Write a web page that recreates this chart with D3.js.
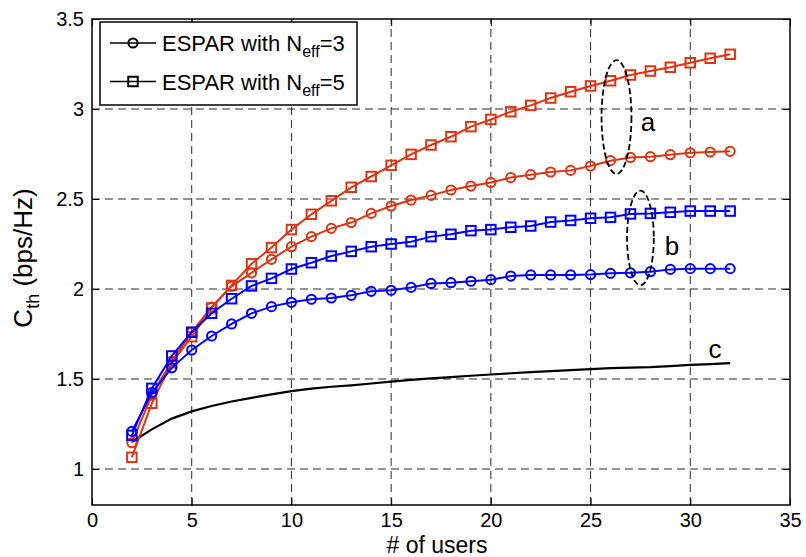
<!DOCTYPE html>
<html>
<head>
<meta charset="utf-8">
<script src="https://cdn.jsdelivr.net/npm/d3@7"></script>
<style>
  html, body { margin: 0; padding: 0; background: #fff; }
  svg { display: block; font-family: "Liberation Sans", Arial, sans-serif; }
</style>
</head>
<body>
<svg id="chart" width="806" height="557"></svg>
<script>
// Number of users on the x axis
const users = [2, 3, 4, 5, 6, 7, 8, 9, 10, 11, 12, 13, 14, 15, 16, 17, 18, 19, 20,
               21, 22, 23, 24, 25, 26, 27, 28, 29, 30, 31, 32];

// Group a (red): ESPAR with N_eff = 3 (circles) and N_eff = 5 (squares)
const aNeff3 = [1.146, 1.41, 1.6, 1.76, 1.9, 2.015, 2.09, 2.165, 2.235, 2.291, 2.337,
                2.369, 2.42, 2.461, 2.494, 2.52, 2.55, 2.572, 2.592, 2.619, 2.635,
                2.65, 2.659, 2.683, 2.713, 2.731, 2.735, 2.746, 2.757, 2.761, 2.765];
const aNeff5 = [1.065, 1.365, 1.59, 1.735, 1.895, 2.02, 2.14, 2.23, 2.33, 2.415, 2.49,
                2.565, 2.625, 2.687, 2.748, 2.8, 2.846, 2.902, 2.942, 2.985, 3.02,
                3.061, 3.096, 3.128, 3.157, 3.189, 3.211, 3.232, 3.257, 3.282, 3.304];

// Group b (blue): ESPAR with N_eff = 3 (circles) and N_eff = 5 (squares)
const bNeff3 = [1.209, 1.424, 1.562, 1.661, 1.739, 1.806, 1.865, 1.902, 1.926, 1.943, 1.95,
                1.965, 1.987, 1.993, 2.009, 2.031, 2.035, 2.043, 2.052, 2.072, 2.078,
                2.078, 2.078, 2.08, 2.087, 2.09, 2.096, 2.109, 2.113, 2.113, 2.113];
const bNeff5 = [1.187, 1.448, 1.628, 1.76, 1.865, 1.946, 2.017, 2.059, 2.111, 2.146, 2.183,
                2.209, 2.235, 2.25, 2.263, 2.291, 2.304, 2.324, 2.33, 2.343, 2.35,
                2.372, 2.381, 2.393, 2.398, 2.417, 2.42, 2.426, 2.433, 2.433, 2.433];

// Curve c (black, no markers)
const curveC = [1.15, 1.22, 1.28, 1.32, 1.35, 1.375, 1.395, 1.415, 1.433, 1.447, 1.457,
                1.465, 1.475, 1.485, 1.495, 1.503, 1.51, 1.518, 1.525, 1.532, 1.538,
                1.544, 1.549, 1.555, 1.56, 1.563, 1.566, 1.572, 1.578, 1.583, 1.588];

// Axis ticks
const xTicks = [0, 5, 10, 15, 20, 25, 30, 35];
const yTicks = [1, 1.5, 2, 2.5, 3, 3.5];
const xDomain = [0, 35];
const yDomain = [0.8, 3.5];

// Legend entries
const legendLabels = ["3", "5"];
const legendShapes = ["circle", "square"];

// Group annotations (ellipse centre and radii in data units)
const groupNames = ["a", "b"];
const groupCx = [26.3, 27.5];
const groupCy = [2.955, 2.283];
const groupRx = [0.75, 0.67];
const groupRy = [0.316, 0.263];

const RED = "#dd3414";
const BLUE = "#0000ff";

const series = [
  { values: aNeff5, color: RED,  shape: "square" },
  { values: aNeff3, color: RED,  shape: "circle" },
  { values: bNeff5, color: BLUE, shape: "square" },
  { values: bNeff3, color: BLUE, shape: "circle" }
];

const svg = d3.select("#chart");
const W = 806, H = 557;
const m = { left: 92, right: 16, top: 19, bottom: 52 };
const x = d3.scaleLinear().domain(xDomain).range([m.left, W - m.right]);
const y = d3.scaleLinear().domain(yDomain).range([H - m.bottom, m.top]);
const fmt = d3.format("~g");

// Dashed grid
const grid = svg.append("g").attr("stroke", "#2a2a2a").attr("stroke-width", 1)
  .attr("stroke-dasharray", "8,5");
grid.selectAll("line.v").data(xTicks.slice(1, -1)).join("line")
  .attr("x1", d => x(d)).attr("x2", d => x(d))
  .attr("y1", y(yDomain[0])).attr("y2", y(yDomain[1]));
grid.selectAll("line.h").data(yTicks.slice(0, -1)).join("line")
  .attr("x1", x(xDomain[0])).attr("x2", x(xDomain[1]))
  .attr("y1", d => y(d)).attr("y2", d => y(d));

// Axes with inward ticks on all four sides
function styleAxis(g) {
  g.select(".domain").remove();
  g.selectAll(".tick line").attr("stroke", "#000").attr("stroke-width", 1);
  g.selectAll(".tick text").attr("fill", "#000")
    .style("font-size", "20px").style("font-family", "'Liberation Sans', Arial, sans-serif");
}
svg.append("g").attr("transform", `translate(0,${y(yDomain[0])})`)
  .call(d3.axisBottom(x).tickValues(xTicks).tickFormat(fmt).tickSizeInner(-7).tickSizeOuter(0).tickPadding(8))
  .call(styleAxis);
svg.append("g").attr("transform", `translate(0,${y(yDomain[1])})`)
  .call(d3.axisTop(x).tickValues(xTicks).tickFormat("").tickSizeInner(-7).tickSizeOuter(0))
  .call(styleAxis);
svg.append("g").attr("transform", `translate(${x(xDomain[0])},0)`)
  .call(d3.axisLeft(y).tickValues(yTicks).tickFormat(fmt).tickSizeInner(-7).tickSizeOuter(0).tickPadding(8))
  .call(styleAxis);
svg.append("g").attr("transform", `translate(${x(xDomain[1])},0)`)
  .call(d3.axisRight(y).tickValues(yTicks).tickFormat("").tickSizeInner(-7).tickSizeOuter(0))
  .call(styleAxis);

// Plot frame
svg.append("rect")
  .attr("x", x(xDomain[0])).attr("y", y(yDomain[1]))
  .attr("width", x(xDomain[1]) - x(xDomain[0]))
  .attr("height", y(yDomain[0]) - y(yDomain[1]))
  .attr("fill", "none").attr("stroke", "#000").attr("stroke-width", 1.5);

const line = d3.line().x((d, i) => x(users[i])).y(d => y(d));

// Marker drawing helper
function drawMarkers(g, pts, shape, color) {
  if (shape === "circle") {
    g.selectAll("circle").data(pts).join("circle")
      .attr("cx", d => d[0]).attr("cy", d => d[1]).attr("r", 4.6)
      .attr("fill", "none").attr("stroke", color).attr("stroke-width", 2);
  } else {
    const s = 9.5;
    g.selectAll("rect").data(pts).join("rect")
      .attr("x", d => d[0] - s / 2).attr("y", d => d[1] - s / 2)
      .attr("width", s).attr("height", s)
      .attr("fill", "none").attr("stroke", color).attr("stroke-width", 2);
  }
}

// Curve c
svg.append("path").datum(curveC)
  .attr("d", line).attr("fill", "none").attr("stroke", "#000").attr("stroke-width", 2.2);

// Coloured series
series.forEach(s => {
  const g = svg.append("g");
  g.append("path").datum(s.values).attr("d", line)
    .attr("fill", "none").attr("stroke", s.color).attr("stroke-width", 2);
  drawMarkers(g, s.values.map((v, i) => [x(users[i]), y(v)]), s.shape, s.color);
});

// Group ellipses and labels
groupNames.forEach((name, i) => {
  svg.append("ellipse")
    .attr("cx", x(groupCx[i])).attr("cy", y(groupCy[i]))
    .attr("rx", x(groupCx[i] + groupRx[i]) - x(groupCx[i]))
    .attr("ry", y(groupCy[i] - groupRy[i]) - y(groupCy[i]))
    .attr("fill", "none").attr("stroke", "#000").attr("stroke-width", 1.8)
    .attr("stroke-dasharray", "6,3");
});
const labelFont = "26px";
svg.append("text").attr("x", 648).attr("y", 131).attr("text-anchor", "middle")
  .style("font-size", labelFont).text(groupNames[0]);
svg.append("text").attr("x", 672).attr("y", 255).attr("text-anchor", "middle")
  .style("font-size", labelFont).text(groupNames[1]);
svg.append("text").attr("x", 715).attr("y", 358).attr("text-anchor", "middle")
  .style("font-size", labelFont).text("c");

// Axis titles
svg.append("text").attr("x", 437).attr("y", 553).attr("text-anchor", "middle")
  .style("font-size", "23px").text("# of users");
const yl = svg.append("text").attr("transform", "translate(32,258) rotate(-90)")
  .attr("text-anchor", "middle").style("font-size", "26px");
yl.append("tspan").text("C");
yl.append("tspan").attr("dy", 7).style("font-size", "18px").text("th");
yl.append("tspan").attr("dy", -7).text(" (bps/Hz)");

// Legend
const lg = svg.append("g");
lg.append("rect").attr("x", 100).attr("y", 22).attr("width", 257).attr("height", 83)
  .attr("fill", "#fff").attr("stroke", "#000").attr("stroke-width", 1.5);
legendLabels.forEach((lab, i) => {
  const cy = 43 + i * 38.5;
  lg.append("line").attr("x1", 110).attr("x2", 156).attr("y1", cy).attr("y2", cy)
    .attr("stroke", "#000").attr("stroke-width", 1.5);
  const mg = lg.append("g");
  drawMarkers(mg, [[133, cy]], legendShapes[i], "#000");
  const t = lg.append("text").attr("x", 162).attr("y", cy + 8).style("font-size", "22px");
  t.append("tspan").text("ESPAR with N");
  t.append("tspan").attr("dy", 6).style("font-size", "16px").text("eff");
  t.append("tspan").attr("dy", -6).text("=" + lab);
});
</script>
</body>
</html>
